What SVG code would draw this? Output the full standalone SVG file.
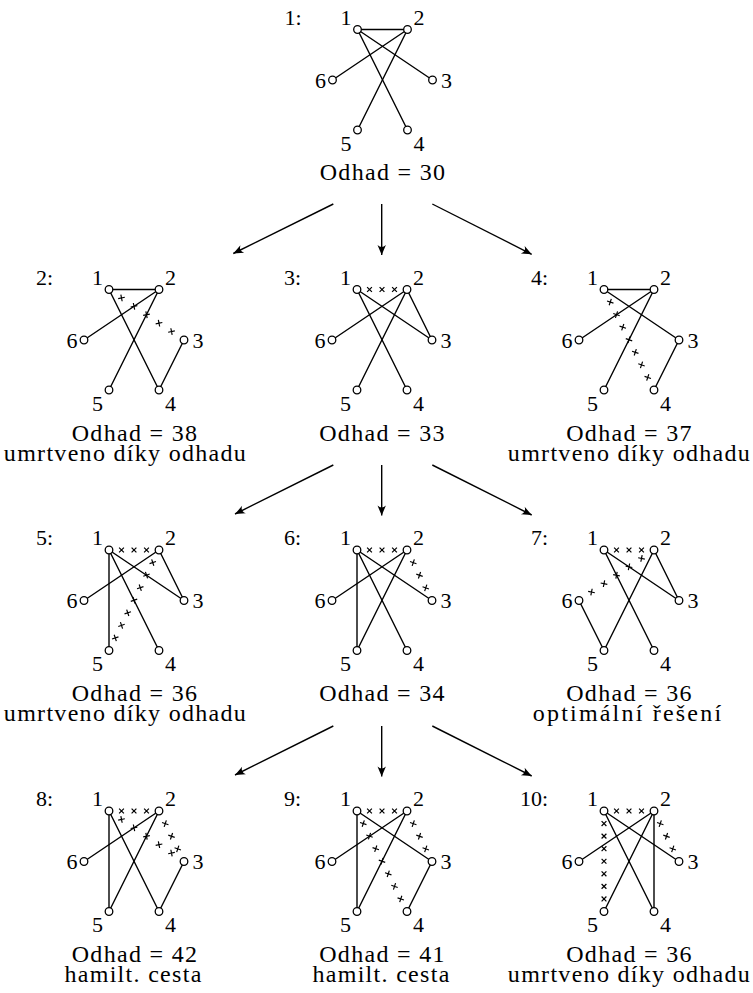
<svg xmlns="http://www.w3.org/2000/svg" width="753" height="993" viewBox="0 0 753 993">
<style>
.e{stroke:#000;stroke-width:1.4;fill:none;stroke-linecap:round}
.v{fill:#fff;stroke:#000;stroke-width:1.3}
.m{stroke:#000;stroke-width:1.2;fill:none}
.lb{font-family:Liberation Serif,serif;font-size:22px;text-anchor:middle;fill:#000}
.nm{font-family:Liberation Serif,serif;font-size:22px;text-anchor:end;fill:#000}
.od{font-family:Liberation Serif,serif;font-size:24px;letter-spacing:1.3px;text-anchor:middle;fill:#000}
.arr{stroke:#000;stroke-width:1.4;fill:none}
</style>
<defs>
<marker id="ah" markerUnits="userSpaceOnUse" markerWidth="14" markerHeight="12" viewBox="-11 -6 12 12" refX="0" refY="0" orient="auto">
<path d="M0,0 L-10,-4.2 Q-6,0 -10,4.2 Z" fill="#000"/>
</marker>
<path id="xm" class="m" d="M-2.4,-2.4L2.4,2.4M-2.4,2.4L2.4,-2.4"/>
<g id="verts">
<circle class="v" cx="0" cy="0" r="3.8"/>
<circle class="v" cx="50" cy="0" r="3.8"/>
<circle class="v" cx="75" cy="50.5" r="3.8"/>
<circle class="v" cx="50" cy="100.5" r="3.8"/>
<circle class="v" cx="0" cy="100.5" r="3.8"/>
<circle class="v" cx="-25" cy="50.5" r="3.8"/>
</g>
<g id="x12">
<use href="#xm" transform="translate(12.5,0)"/>
<use href="#xm" transform="translate(25,0)"/>
<use href="#xm" transform="translate(37.5,0)"/>
</g>
<g id="x13">
<use href="#xm" transform="translate(12.5,8.42) rotate(34)"/>
<use href="#xm" transform="translate(25,16.83) rotate(34)"/>
<use href="#xm" transform="translate(37.5,25.25) rotate(34)"/>
<use href="#xm" transform="translate(50,33.67) rotate(34)"/>
<use href="#xm" transform="translate(62.5,42.08) rotate(34)"/>
</g>
<g id="x14">
<use href="#xm" transform="translate(6.25,12.56) rotate(63.5)"/>
<use href="#xm" transform="translate(12.5,25.13) rotate(63.5)"/>
<use href="#xm" transform="translate(18.75,37.69) rotate(63.5)"/>
<use href="#xm" transform="translate(25,50.25) rotate(63.5)"/>
<use href="#xm" transform="translate(31.25,62.81) rotate(63.5)"/>
<use href="#xm" transform="translate(37.5,75.38) rotate(63.5)"/>
<use href="#xm" transform="translate(43.75,87.94) rotate(63.5)"/>
</g>
<g id="x23">
<use href="#xm" transform="translate(56.25,12.63) rotate(63.7)"/>
<use href="#xm" transform="translate(62.5,25.25) rotate(63.7)"/>
<use href="#xm" transform="translate(68.75,37.88) rotate(63.7)"/>
</g>
<g id="x26">
<use href="#xm" transform="translate(37.5,8.42) rotate(146)"/>
<use href="#xm" transform="translate(25,16.83) rotate(146)"/>
<use href="#xm" transform="translate(12.5,25.25) rotate(146)"/>
<use href="#xm" transform="translate(0,33.67) rotate(146)"/>
<use href="#xm" transform="translate(-12.5,42.08) rotate(146)"/>
</g>
<g id="x25">
<use href="#xm" transform="translate(43.75,12.56) rotate(116.5)"/>
<use href="#xm" transform="translate(37.5,25.13) rotate(116.5)"/>
<use href="#xm" transform="translate(31.25,37.69) rotate(116.5)"/>
<use href="#xm" transform="translate(25,50.25) rotate(116.5)"/>
<use href="#xm" transform="translate(18.75,62.81) rotate(116.5)"/>
<use href="#xm" transform="translate(12.5,75.38) rotate(116.5)"/>
<use href="#xm" transform="translate(6.25,87.94) rotate(116.5)"/>
</g>
<g id="x15">
<use href="#xm" transform="translate(0,12.56)"/>
<use href="#xm" transform="translate(0,25.13)"/>
<use href="#xm" transform="translate(0,37.69)"/>
<use href="#xm" transform="translate(0,50.25)"/>
<use href="#xm" transform="translate(0,62.81)"/>
<use href="#xm" transform="translate(0,75.38)"/>
<use href="#xm" transform="translate(0,87.94)"/>
</g>
</defs>
<rect width="753" height="993" fill="#fff"/>

<g id="connectors">
<line class="arr" x1="333.3" y1="204" x2="233.3" y2="253.5" marker-end="url(#ah)"/>
<line class="arr" x1="381.7" y1="204" x2="381.7" y2="255" marker-end="url(#ah)"/>
<line class="arr" x1="432.3" y1="204" x2="531.7" y2="254.3" marker-end="url(#ah)"/>
<line class="arr" x1="333.3" y1="465" x2="235" y2="514" marker-end="url(#ah)"/>
<line class="arr" x1="381.7" y1="465" x2="381.7" y2="515.5" marker-end="url(#ah)"/>
<line class="arr" x1="432.3" y1="465" x2="531.7" y2="515" marker-end="url(#ah)"/>
<line class="arr" x1="333.3" y1="726" x2="235" y2="775" marker-end="url(#ah)"/>
<line class="arr" x1="381.7" y1="726" x2="381.7" y2="776.5" marker-end="url(#ah)"/>
<line class="arr" x1="432.3" y1="726" x2="531.7" y2="776" marker-end="url(#ah)"/>
</g>

<g id="node1" transform="translate(357.5,29.5)">
<line class="e" x1="0" y1="0" x2="50" y2="0"/>
<line class="e" x1="0" y1="0" x2="75" y2="50.5"/>
<line class="e" x1="0" y1="0" x2="50" y2="100.5"/>
<line class="e" x1="50" y1="0" x2="-25" y2="50.5"/>
<line class="e" x1="50" y1="0" x2="0" y2="100.5"/>
<use href="#verts"/>
<text class="lb" x="-11.5" y="-5">1</text><text class="lb" x="61.5" y="-5">2</text><text class="lb" x="89" y="58">3</text><text class="lb" x="61.5" y="121">4</text><text class="lb" x="-11.5" y="121">5</text><text class="lb" x="-37" y="58">6</text>
<text class="nm" x="-56" y="-5">1:</text>
<text class="od" x="25.5" y="150">Odhad = 30</text>
</g>

<g id="node2" transform="translate(109,289.5)">
<line class="e" x1="0" y1="0" x2="50" y2="0"/>
<line class="e" x1="50" y1="0" x2="-25" y2="50.5"/>
<line class="e" x1="50" y1="0" x2="0" y2="100.5"/>
<line class="e" x1="0" y1="0" x2="50" y2="100.5"/>
<line class="e" x1="50" y1="100.5" x2="75" y2="50.5"/>
<use href="#x13"/>
<use href="#verts"/>
<text class="lb" x="-11.5" y="-5">1</text><text class="lb" x="61.5" y="-5">2</text><text class="lb" x="89" y="58">3</text><text class="lb" x="61.5" y="121">4</text><text class="lb" x="-11.5" y="121">5</text><text class="lb" x="-37" y="58">6</text>
<text class="nm" x="-56" y="-5">2:</text>
<text class="od" x="26" y="151">Odhad = 38</text>
<text class="od" x="16.5" y="171">umrtveno díky odhadu</text>
</g>

<g id="node3" transform="translate(357,289.5)">
<line class="e" x1="0" y1="0" x2="75" y2="50.5"/>
<line class="e" x1="0" y1="0" x2="50" y2="100.5"/>
<line class="e" x1="50" y1="0" x2="-25" y2="50.5"/>
<line class="e" x1="50" y1="0" x2="0" y2="100.5"/>
<line class="e" x1="50" y1="0" x2="75" y2="50.5"/>
<use href="#x12"/>
<use href="#verts"/>
<text class="lb" x="-11.5" y="-5">1</text><text class="lb" x="61.5" y="-5">2</text><text class="lb" x="89" y="58">3</text><text class="lb" x="61.5" y="121">4</text><text class="lb" x="-11.5" y="121">5</text><text class="lb" x="-37" y="58">6</text>
<text class="nm" x="-56" y="-5">3:</text>
<text class="od" x="25.5" y="151">Odhad = 33</text>
</g>

<g id="node4" transform="translate(604,289.5)">
<line class="e" x1="0" y1="0" x2="50" y2="0"/>
<line class="e" x1="0" y1="0" x2="75" y2="50.5"/>
<line class="e" x1="50" y1="0" x2="-25" y2="50.5"/>
<line class="e" x1="50" y1="0" x2="0" y2="100.5"/>
<line class="e" x1="75" y1="50.5" x2="50" y2="100.5"/>
<use href="#x14"/>
<use href="#verts"/>
<text class="lb" x="-11.5" y="-5">1</text><text class="lb" x="61.5" y="-5">2</text><text class="lb" x="89" y="58">3</text><text class="lb" x="61.5" y="121">4</text><text class="lb" x="-11.5" y="121">5</text><text class="lb" x="-37" y="58">6</text>
<text class="nm" x="-56" y="-5">4:</text>
<text class="od" x="25.5" y="151">Odhad = 37</text>
<text class="od" x="25.5" y="171">umrtveno díky odhadu</text>
</g>

<g id="node5" transform="translate(109,550)">
<line class="e" x1="0" y1="0" x2="0" y2="100.5"/>
<line class="e" x1="0" y1="0" x2="75" y2="50.5"/>
<line class="e" x1="0" y1="0" x2="50" y2="100.5"/>
<line class="e" x1="50" y1="0" x2="-25" y2="50.5"/>
<line class="e" x1="50" y1="0" x2="75" y2="50.5"/>
<use href="#x12"/><use href="#x25"/>
<use href="#verts"/>
<text class="lb" x="-11.5" y="-5">1</text><text class="lb" x="61.5" y="-5">2</text><text class="lb" x="89" y="58">3</text><text class="lb" x="61.5" y="121">4</text><text class="lb" x="-11.5" y="121">5</text><text class="lb" x="-37" y="58">6</text>
<text class="nm" x="-56" y="-5">5:</text>
<text class="od" x="26" y="151">Odhad = 36</text>
<text class="od" x="16.5" y="171">umrtveno díky odhadu</text>
</g>

<g id="node6" transform="translate(357,550)">
<line class="e" x1="0" y1="0" x2="0" y2="100.5"/>
<line class="e" x1="0" y1="0" x2="75" y2="50.5"/>
<line class="e" x1="0" y1="0" x2="50" y2="100.5"/>
<line class="e" x1="50" y1="0" x2="-25" y2="50.5"/>
<line class="e" x1="50" y1="0" x2="0" y2="100.5"/>
<use href="#x12"/><use href="#x23"/>
<use href="#verts"/>
<text class="lb" x="-11.5" y="-5">1</text><text class="lb" x="61.5" y="-5">2</text><text class="lb" x="89" y="58">3</text><text class="lb" x="61.5" y="121">4</text><text class="lb" x="-11.5" y="121">5</text><text class="lb" x="-37" y="58">6</text>
<text class="nm" x="-56" y="-5">6:</text>
<text class="od" x="25.5" y="151">Odhad = 34</text>
</g>

<g id="node7" transform="translate(604,550)">
<line class="e" x1="0" y1="0" x2="75" y2="50.5"/>
<line class="e" x1="0" y1="0" x2="50" y2="100.5"/>
<line class="e" x1="50" y1="0" x2="0" y2="100.5"/>
<line class="e" x1="50" y1="0" x2="75" y2="50.5"/>
<line class="e" x1="-25" y1="50.5" x2="0" y2="100.5"/>
<use href="#x12"/><use href="#x26"/>
<use href="#verts"/>
<text class="lb" x="-11.5" y="-5">1</text><text class="lb" x="61.5" y="-5">2</text><text class="lb" x="89" y="58">3</text><text class="lb" x="61.5" y="121">4</text><text class="lb" x="-11.5" y="121">5</text><text class="lb" x="-37" y="58">6</text>
<text class="nm" x="-56" y="-5">7:</text>
<text class="od" x="25.5" y="151">Odhad = 36</text>
<text class="od" x="24" y="171" style="letter-spacing:2.2px">optimální řešení</text>
</g>

<g id="node8" transform="translate(109,811)">
<line class="e" x1="0" y1="0" x2="0" y2="100.5"/>
<line class="e" x1="50" y1="0" x2="-25" y2="50.5"/>
<line class="e" x1="50" y1="0" x2="0" y2="100.5"/>
<line class="e" x1="0" y1="0" x2="50" y2="100.5"/>
<line class="e" x1="50" y1="100.5" x2="75" y2="50.5"/>
<use href="#x12"/><use href="#x13"/><use href="#x23"/>
<use href="#verts"/>
<text class="lb" x="-11.5" y="-5">1</text><text class="lb" x="61.5" y="-5">2</text><text class="lb" x="89" y="58">3</text><text class="lb" x="61.5" y="121">4</text><text class="lb" x="-11.5" y="121">5</text><text class="lb" x="-37" y="58">6</text>
<text class="nm" x="-56" y="-5">8:</text>
<text class="od" x="26" y="151">Odhad = 42</text>
<text class="od" x="24.5" y="171">hamilt. cesta</text>
</g>

<g id="node9" transform="translate(357,811)">
<line class="e" x1="0" y1="0" x2="0" y2="100.5"/>
<line class="e" x1="0" y1="0" x2="75" y2="50.5"/>
<line class="e" x1="50" y1="0" x2="-25" y2="50.5"/>
<line class="e" x1="50" y1="0" x2="0" y2="100.5"/>
<line class="e" x1="75" y1="50.5" x2="50" y2="100.5"/>
<use href="#x12"/><use href="#x23"/><use href="#x14"/>
<use href="#verts"/>
<text class="lb" x="-11.5" y="-5">1</text><text class="lb" x="61.5" y="-5">2</text><text class="lb" x="89" y="58">3</text><text class="lb" x="61.5" y="121">4</text><text class="lb" x="-11.5" y="121">5</text><text class="lb" x="-37" y="58">6</text>
<text class="nm" x="-56" y="-5">9:</text>
<text class="od" x="25.5" y="151">Odhad = 41</text>
<text class="od" x="24.5" y="171">hamilt. cesta</text>
</g>

<g id="node10" transform="translate(604,811)">
<line class="e" x1="0" y1="0" x2="75" y2="50.5"/>
<line class="e" x1="0" y1="0" x2="50" y2="100.5"/>
<line class="e" x1="50" y1="0" x2="-25" y2="50.5"/>
<line class="e" x1="50" y1="0" x2="0" y2="100.5"/>
<line class="e" x1="50" y1="0" x2="50" y2="100.5"/>
<use href="#x12"/><use href="#x23"/><use href="#x15"/>
<use href="#verts"/>
<text class="lb" x="-11.5" y="-5">1</text><text class="lb" x="61.5" y="-5">2</text><text class="lb" x="89" y="58">3</text><text class="lb" x="61.5" y="121">4</text><text class="lb" x="-11.5" y="121">5</text><text class="lb" x="-37" y="58">6</text>
<text class="nm" x="-56" y="-5">10:</text>
<text class="od" x="25.5" y="151">Odhad = 36</text>
<text class="od" x="25.5" y="171">umrtveno díky odhadu</text>
</g>
</svg>
